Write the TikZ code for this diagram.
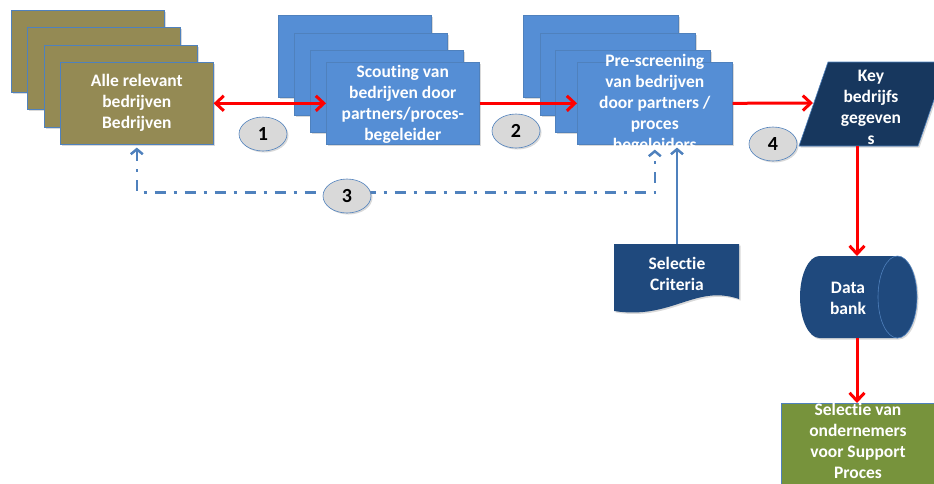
\documentclass[tikz,border=0pt]{standalone}
\usepackage{fontspec}
\setmainfont{Carlito}[Ligatures=NoCommon]
\usetikzlibrary{arrows.meta,shapes.geometric,shadows,calc}

\definecolor{olivefill}{RGB}{148,138,84}
\definecolor{bluefill}{RGB}{85,142,213}
\definecolor{boxline}{RGB}{79,129,189}
\definecolor{navy}{RGB}{31,73,125}
\definecolor{deepnavy}{RGB}{23,55,94}
\definecolor{greenfill}{RGB}{119,147,60}
\definecolor{tagfill}{RGB}{217,217,217}

\tikzset{
  softshadow/.style={drop shadow={shadow xshift=1.5pt,shadow yshift=-1.5pt,opacity=0.3}},
  card/.style={draw=boxline, line width=0.6pt, inner sep=0pt, anchor=north west,
               minimum width=153pt, minimum height=82pt, softshadow},
  olivecard/.style={card, fill=olivefill},
  bluecard/.style={card, fill=bluefill},
  label/.style={text=white, font=\fontsize{17.5}{21}\selectfont\bfseries,
                align=center, inner sep=0pt},
  numtag/.style={ellipse, draw=boxline, line width=0.6pt, fill=tagfill,
                 minimum width=48pt, minimum height=34pt, inner sep=0pt,
                 font=\fontsize{20}{22}\selectfont\bfseries, softshadow},
  flow/.style={draw=red, line width=3pt, -{Straight Barb[length=8pt,width=15pt]}},
  flowboth/.style={draw=red, line width=3pt,
                   {Straight Barb[length=8pt,width=15pt]}-{Straight Barb[length=8pt,width=15pt]}},
  feedback/.style={draw=boxline, line width=2.5pt,
                   dash pattern=on 11pt off 8pt on 3pt off 8pt,
                   {Straight Barb[length=5pt,width=12pt]}-{Straight Barb[length=5pt,width=12pt]}},
  critline/.style={draw=boxline, line width=2.5pt, -{Straight Barb[length=5pt,width=12pt]}},
}

\begin{document}
\begin{tikzpicture}[x=1pt,y=-1pt]
\useasboundingbox (0,0) rectangle (934,483);

% stack of company cards
\node[olivecard] (oliveA) at (11,10) {};
\node[olivecard] (oliveB) at (27,27) {};
\node[olivecard] (oliveC) at (44,45) {};
\node[olivecard] (olive)  at (60,62) {};
\node[label] (olivetxt) at (olive.center) {Alle relevant\\bedrijven\\Bedrijven};

% scouting stack
\node[bluecard] (scoutA) at (278,15) {};
\node[bluecard] (scoutB) at (294,33) {};
\node[bluecard] (scoutC) at (310,50) {};
\node[bluecard] (scout)  at (326,62) {};
\node[label] (scouttxt) at ($(scout.center)+(0,1.5)$) {Scouting van\\bedrijven door\\partners/proces-\\begeleider};

% pre-screening stack
\node[bluecard, minimum width=155pt] (preA) at (523,15) {};
\node[bluecard, minimum width=155pt] (preB) at (540,33) {};
\node[bluecard, minimum width=155pt] (preC) at (555,50) {};
\node[bluecard, minimum width=155pt] (pre)  at (577,62) {};
\node[label] (pretxt) at ($(pre.center)+(0,1)$) {Pre-screening\\van bedrijven\\door partners /\\proces\\begeleiders};

% key data (parallelogram)
\coordinate (kbl) at (799,146);
\coordinate (ktl) at (828,62);
\coordinate (ktr) at (947,62);
\coordinate (kbr) at (918,146);
\fill[deepnavy, softshadow] (kbl) -- (ktl) -- (ktr) -- (kbr) -- cycle;
\draw[boxline, line width=0.6pt] (kbl) -- (ktl) -- (ktr) -- (kbr) -- cycle;
\node[label] (key) at (871,107) {Key\\bedrijfs\\gegeven\\s};
\coordinate (keyin) at (813,103);
\coordinate (keyout) at (857,146);

% selection criteria (document shape)
\coordinate (crittop) at (677,244);
\fill[navy, softshadow] (614,244) -- (739,244) -- (739,299)
   .. controls (695,284) and (672,320) .. (614,311) -- cycle;
\node[label] (crit) at (677,274) {Selectie\\Criteria};

% database (horizontal drum)
\fill[navy, softshadow] (819.5,256) -- (897.5,256)
   arc[start angle=-90, end angle=90, x radius=19.5, y radius=41]
   -- (819.5,338)
   arc[start angle=90, end angle=270, x radius=19.5, y radius=41] -- cycle;
\draw[boxline, line width=0.6pt] (897.5,297) ellipse[x radius=19.5, y radius=41];
\coordinate (dbtop) at (857,256);
\coordinate (dbbot) at (857,338);
\node[label] (db) at (848,298) {Data\\bank};

% selection result
\node[card, fill=greenfill, minimum width=156pt, minimum height=110pt] (sel) at (781,403) {};
\node[label, anchor=north] (seltxt) at (858,403) {Selectie van\\ondernemers\\voor Support\\Proces};

% main flow
\draw[flowboth] (olive.east) -- (scout.west);
\draw[flow] (scout.east) -- (pre.west);
\draw[flow] (pre.east) -- (keyin);
\draw[flow] (keyout) -- (dbtop);
\draw[flow] (dbbot) -- (dbbot |- sel.north);

% feedback loop and criteria input
\coordinate (fbL) at ($(olive.south)+(0,48)$);
\coordinate (fbR) at ($(pre.south)+(0,48)$);
\draw[feedback] ($(olive.south)+(0,3)$) -- (fbL) -- (fbR) -- ($(pre.south)+(0,5)$);
\draw[critline] (crittop) -- ($(crittop |- pre.south)+(0,3)$);

% step numbers
\node[numtag] (n1) at (263,134) {1};
\node[numtag] (n2) at (516,131) {2};
\node[numtag] (n3) at (347,196) {3};
\node[numtag] (n4) at (773,144) {4};
\end{tikzpicture}
\end{document}
